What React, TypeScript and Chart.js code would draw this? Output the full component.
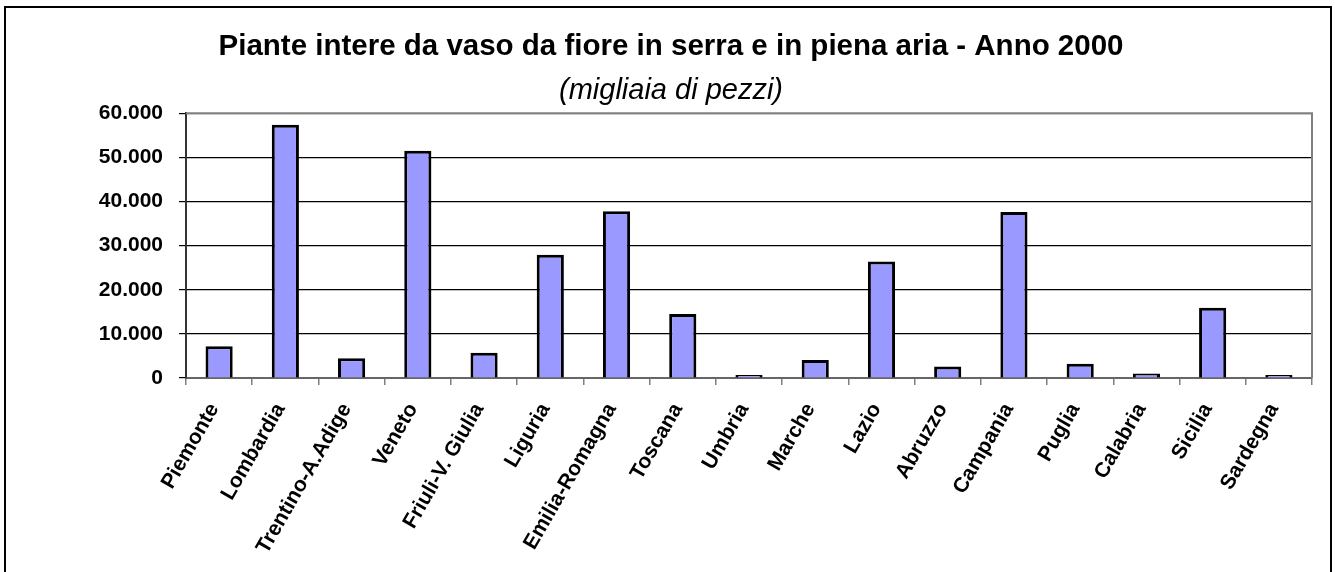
import React, { useEffect, useRef } from "react";
import { Chart, registerables } from "chart.js";

Chart.register(...registerables);

const regions = [
  "Piemonte", "Lombardia", "Trentino-A.Adige", "Veneto", "Friuli-V. Giulia",
  "Liguria", "Emilia-Romagna", "Toscana", "Umbria", "Marche", "Lazio",
  "Abruzzo", "Campania", "Puglia", "Calabria", "Sicilia", "Sardegna",
];
const pezzi = [
  7200, 57400, 4450, 51500, 5700, 27900, 37800, 14500, 700, 4100, 26400,
  2600, 37600, 3250, 1000, 15900, 700,
];
const yTicks = [0, 10000, 20000, 30000, 40000, 50000, 60000];
const titleText = "Piante intere da vaso da fiore in serra e in piena aria - Anno 2000";
const subtitleText = "(migliaia di pezzi)";

const FONT = "'Liberation Sans', Arial, sans-serif";

const plotBorder = {
  id: "plotBorder",
  afterDraw(chart: any) {
    const { ctx, chartArea } = chart;
    ctx.save();
    ctx.strokeStyle = "#808080";
    ctx.lineWidth = 2;
    ctx.beginPath();
    ctx.moveTo(chartArea.left, chartArea.top);
    ctx.lineTo(chartArea.right, chartArea.top);
    ctx.lineTo(chartArea.right, chartArea.bottom);
    ctx.stroke();
    ctx.restore();
  },
};

export default function App() {
  const ref = useRef<HTMLCanvasElement>(null);
  useEffect(() => {
    document.body.style.margin = "0";
    const chart = new Chart(ref.current!, {
      type: "bar",
      data: {
        labels: regions,
        datasets: [
          {
            data: pezzi,
            backgroundColor: "#9999FF",
            borderColor: "#000000",
            borderWidth: 3,
            categoryPercentage: 1,
            barPercentage: 0.41,
          },
        ],
      },
      plugins: [plotBorder],
      options: {
        responsive: false,
        animation: false,
        layout: { padding: { left: 30, right: 23, top: 0, bottom: 0 } },
        plugins: {
          legend: { display: false },
          tooltip: { enabled: false },
          title: {
            display: true,
            text: titleText,
            color: "#000",
            font: { family: FONT, size: 29.5, weight: "bold", lineHeight: 1.2 },
            padding: { top: 29, bottom: 4 },
          },
          subtitle: {
            display: true,
            text: subtitleText,
            color: "#000",
            font: { family: FONT, size: 29, style: "italic", weight: "normal", lineHeight: 1.2 },
            padding: { top: 5, bottom: 5 },
          },
        },
        scales: {
          x: {
            grid: {
              offset: true,
              drawOnChartArea: false,
              drawTicks: true,
              tickLength: 7,
              color: "#808080",
              lineWidth: 1.5,
            },
            border: { color: "#666666", width: 2 },
            ticks: {
              autoSkip: false,
              minRotation: 60,
              maxRotation: 60,
              padding: 14,
              labelOffset: -5,
              color: "#000",
              font: { family: FONT, size: 21, weight: "bold" },
            },
            afterFit(scale: any) {
              scale.height = 194;
            },
          },
          y: {
            min: 0,
            max: 60000,
            afterBuildTicks(scale: any) {
              scale.ticks = yTicks.map((v) => ({ value: v }));
            },
            grid: {
              color: (c: any) => (c.tick && c.tick.value === 60000 ? "#808080" : "#000000"),
              lineWidth: 1.2,
              tickLength: 7,
              tickColor: "#000000",
            },
            border: { color: "#333333", width: 2 },
            ticks: {
              padding: 16,
              color: "#000",
              font: { family: FONT, size: 21, weight: "bold" },
              callback: (v: any) =>
                Number(v) === 0 ? "0" : Number(v).toLocaleString("it-IT").replace(/,/g, "."),
            },
            afterFit(scale: any) {
              scale.width = 156;
            },
          },
        },
      },
    });
    return () => chart.destroy();
  }, []);
  return (
    <div style={{ position: "relative", width: 1335, height: 572, background: "#fff", overflow: "hidden" }}>
      <div
        style={{
          position: "absolute",
          left: 4,
          top: 6,
          width: 1328,
          height: 600,
          border: "2px solid #000",
          boxSizing: "border-box",
        }}
      />
      <canvas ref={ref} width={1335} height={572} style={{ position: "absolute", left: 0, top: 0 }} />
    </div>
  );
}
